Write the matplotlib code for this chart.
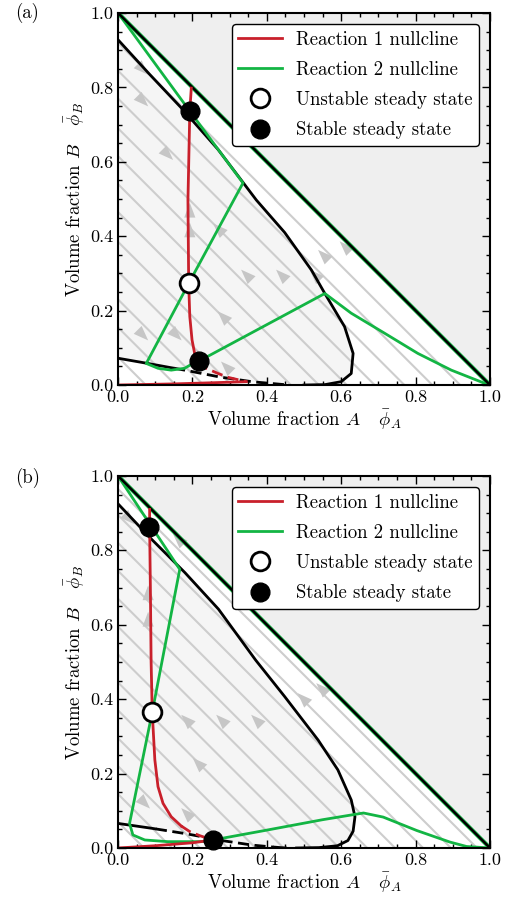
import numpy as np
import matplotlib
matplotlib.use('Agg')
import matplotlib.pyplot as plt
from matplotlib.lines import Line2D
from matplotlib.ticker import MultipleLocator

plt.rcParams['font.family'] = ['cmr10', 'DejaVu Serif']
plt.rcParams['mathtext.fontset'] = 'cm'
plt.rcParams['axes.formatter.use_mathtext'] = True
plt.rcParams['font.size'] = 13

RED = '#c9202b'
GREEN = '#13b544'
GRAY_LINE = '#cdcdcd'
GRAY_ARROW = '#c6c6c6'

# ---- panel (a) data ----
a_binodal_up_x = [0.0, 0.085, 0.17, 0.269, 0.372, 0.448, 0.52, 0.556, 0.609, 0.632, 0.627, 0.60, 0.556, 0.50]
a_binodal_up_y = [0.928, 0.835, 0.745, 0.633, 0.497, 0.41, 0.309, 0.246, 0.157, 0.085, 0.031, 0.009, 0.001, 0.0]
a_binodal_lo_x = [0.0, 0.08, 0.14, 0.18, 0.27, 0.358, 0.448]
a_binodal_lo_y = [0.072, 0.058, 0.047, 0.040, 0.022, 0.009, 0.001]
a_red_x = [0.197, 0.193, 0.188, 0.19, 0.193, 0.199, 0.206, 0.218]
a_red_y = [0.798, 0.736, 0.497, 0.273, 0.184, 0.121, 0.085, 0.0645]
a_red_dash_x = [0.218, 0.237, 0.269, 0.296, 0.345]
a_red_dash_y = [0.0645, 0.045, 0.031, 0.0206, 0.009]
a_red_base_x = [0.345, 0.25, 0.15, 0.0]
a_red_base_y = [0.009, 0.006, 0.003, 0.0]
a_green_x = [0.0, 0.193, 0.336, 0.19, 0.076, 0.1075, 0.143, 0.179, 0.2016, 0.218, 0.556,
             0.627, 0.717, 0.806, 0.896, 0.986, 1.0]
a_green_y = [1.0, 0.736, 0.543, 0.273, 0.058, 0.045, 0.040, 0.045, 0.058, 0.0645, 0.246,
             0.193, 0.139, 0.085, 0.040, 0.0045, 0.0]
a_stable_x = [0.193, 0.218]
a_stable_y = [0.736, 0.0645]
a_unstable_x = [0.19]
a_unstable_y = [0.273]
a_stream_c = [0.075, 0.155, 0.23, 0.305, 0.385, 0.465, 0.54, 0.615, 0.69, 0.77, 0.845, 0.92]
a_arrow_x = [0.067, 0.067, 0.134, 0.193, 0.193, 0.27, 0.345, 0.439, 0.529, 0.552, 0.61, 0.282, 0.067, 0.157, 0.291]
a_arrow_y = [0.848, 0.763, 0.619, 0.47, 0.417, 0.42, 0.296, 0.296, 0.296, 0.349, 0.372, 0.184, 0.134, 0.134, 0.049]
a_arrow_dir = ['dr', 'dr', 'dr', 'u', 'u', 'ul', 'ul', 'ul', 'ul', 'ul', 'ul', 'ul', 'dr', 'dr', 'ul']

# ---- panel (b) data ----
b_binodal_up_x = [0.0, 0.09, 0.18, 0.27, 0.37, 0.448, 0.538, 0.591, 0.627, 0.637, 0.632, 0.618, 0.59, 0.54, 0.48]
b_binodal_up_y = [0.925, 0.83, 0.74, 0.642, 0.505, 0.407, 0.29, 0.21, 0.129, 0.084, 0.045, 0.02, 0.006, 0.001, 0.0]
b_binodal_lo_x = [0.0, 0.09, 0.18, 0.269, 0.358, 0.403, 0.45]
b_binodal_lo_y = [0.066, 0.053, 0.039, 0.0215, 0.008, 0.0036, 0.0]
b_red_x = [0.085, 0.085, 0.087, 0.089, 0.092, 0.099, 0.1075, 0.121, 0.143, 0.17]
b_red_y = [0.91, 0.862, 0.7, 0.5, 0.365, 0.237, 0.165, 0.12, 0.084, 0.059]
b_red_dash_x = [0.17, 0.193, 0.22, 0.255]
b_red_dash_y = [0.059, 0.044, 0.033, 0.0215]
b_red_base_x = [0.255, 0.2, 0.1, 0.0]
b_red_base_y = [0.0215, 0.014, 0.006, 0.0]
b_green_x = [0.0, 0.166, 0.092, 0.031, 0.04, 0.072, 0.134, 0.224, 0.255, 0.4, 0.55, 0.641, 0.66,
             0.713, 0.803, 0.892, 0.937, 1.0]
b_green_y = [1.0, 0.749, 0.365, 0.066, 0.035, 0.0215, 0.017, 0.017, 0.0215, 0.048, 0.076, 0.091, 0.094,
             0.083, 0.047, 0.016, 0.004, 0.0]
b_stable_x = [0.084, 0.255]
b_stable_y = [0.862, 0.0215]
b_unstable_x = [0.092]
b_unstable_y = [0.365]
b_stream_c = [0.07, 0.145, 0.22, 0.295, 0.37, 0.445, 0.52, 0.595, 0.67, 0.745, 0.82, 0.895, 0.965]
b_arrow_x = [0.031, 0.081, 0.081, 0.162, 0.184, 0.278, 0.372, 0.497, 0.547, 0.215, 0.072, 0.184]
b_arrow_y = [0.884, 0.686, 0.615, 0.83, 0.344, 0.344, 0.344, 0.402, 0.429, 0.228, 0.12, 0.093]
b_arrow_dir = ['dr', 'u', 'u', 'ul', 'ul', 'ul', 'ul', 'ul', 'ul', 'ul', 'dr', 'ul']

# unit heading of each arrow
DIRS = {'dr': (1, -1), 'ul': (-1, 1), 'u': (0, 1), 'd': (0, -1)}
HEAD_L = 0.040   # arrowhead length (axes are square, so data units are isotropic)
HEAD_W = 0.030


def split_dashed(xs, ys, x0, x1):
    # lower binodal: solid, dashed, solid
    xs = np.asarray(xs)
    ys = np.asarray(ys)
    xi = np.linspace(xs[0], xs[-1], 200)
    yi = np.interp(xi, xs, ys)
    m1 = xi <= x0
    m2 = (xi >= x0) & (xi <= x1)
    m3 = xi >= x1
    return (xi[m1], yi[m1]), (xi[m2], yi[m2]), (xi[m3], yi[m3])


def arrowhead(ax, x, y, d):
    u = np.array(DIRS[d], dtype=float)
    u /= np.hypot(*u)
    n = np.array([-u[1], u[0]])
    p = np.array([x, y])
    tip = p + u * HEAD_L / 2
    base = p - u * HEAD_L / 2
    pts = np.array([tip, base + n * HEAD_W / 2, base - n * HEAD_W / 2])
    ax.fill(pts[:, 0], pts[:, 1], color=GRAY_ARROW, lw=0, zorder=2)


def panel(ax, up_x, up_y, lo_x, lo_y, red_x, red_y, rdash_x, rdash_y, rbase_x, rbase_y,
          green_x, green_y, st_x, st_y, un_x, un_y, stream_c, ar_x, ar_y, ar_d, dash_from, dash_to):
    ax.set_xlim(0, 1)
    ax.set_ylim(0, 1)
    # forbidden region above phi_A + phi_B = 1
    ax.fill([0, 1, 1], [1, 1, 0], color='#efefef', zorder=0, lw=0)
    # inside the binodal
    ax.fill(list(up_x) + list(lo_x[::-1]), list(up_y) + list(lo_y[::-1]),
            color='#f5f5f5', zorder=0.5, lw=0)

    for c in stream_c:
        ax.plot([0, c], [c, 0], color=GRAY_LINE, lw=1.5, zorder=1, solid_capstyle='butt')
    for x, y, d in zip(ar_x, ar_y, ar_d):
        arrowhead(ax, x, y, d)

    ax.plot(up_x, up_y, color='black', lw=2.0, zorder=3)
    p1, p2, p3 = split_dashed(lo_x, lo_y, dash_from, dash_to)
    ax.plot(*p1, color='black', lw=2.0, zorder=3)
    ax.plot(*p2, color='black', lw=2.0, zorder=3, dashes=(4, 2))
    ax.plot(*p3, color='black', lw=2.0, zorder=3)

    ax.plot(green_x, green_y, color=GREEN, lw=2.0, zorder=4)
    ax.plot([0, 1], [1, 0], color=GREEN, lw=3.0, zorder=4.5)
    ax.plot([0, 1], [1, 0], color='black', lw=1.8, zorder=4.6)

    ax.plot(red_x, red_y, color=RED, lw=2.0, zorder=5)
    ax.plot(rdash_x, rdash_y, color=RED, lw=2.0, zorder=5, dashes=(4, 2))
    ax.plot(rbase_x, rbase_y, color=RED, lw=2.0, zorder=5)

    ax.plot(un_x, un_y, 'o', ms=13.5, mfc='white', mec='black', mew=2.0, zorder=6, clip_on=False)
    ax.plot(st_x, st_y, 'o', ms=13.5, mfc='black', mec='black', mew=1.0, zorder=6, clip_on=False)

    ax.xaxis.set_minor_locator(MultipleLocator(0.05))
    ax.yaxis.set_minor_locator(MultipleLocator(0.05))
    ax.tick_params(which='both', direction='in', top=True, right=True, width=1.0)
    ax.tick_params(which='major', length=6)
    ax.tick_params(which='minor', length=3)
    ax.set_xticks([0, 0.2, 0.4, 0.6, 0.8, 1.0])
    ax.set_xticklabels(['0.0', '0.2', '0.4', '0.6', '0.8', '1.0'])
    ax.set_yticks([0, 0.2, 0.4, 0.6, 0.8, 1.0])
    ax.set_yticklabels(['0.0', '0.2', '0.4', '0.6', '0.8', '1.0'])
    for sp in ax.spines.values():
        sp.set_linewidth(1.5)
        sp.set_zorder(7)
    ax.set_xlabel(r'Volume fraction $A$   $\bar{\phi}_A$', labelpad=1, fontsize=13.5)
    ax.set_ylabel(r'Volume fraction $B$   $\bar{\phi}_B$', labelpad=3, fontsize=13.5)

    handles = [
        Line2D([], [], color=RED, lw=2.0),
        Line2D([], [], color=GREEN, lw=2.0),
        Line2D([], [], ls='none', marker='o', ms=13.5, mfc='white', mec='black', mew=2.0),
        Line2D([], [], ls='none', marker='o', ms=13.5, mfc='black', mec='black'),
    ]
    labels = ['Reaction 1 nullcline', 'Reaction 2 nullcline',
              'Unstable steady state', 'Stable steady state']
    leg = ax.legend(handles, labels, loc='upper right', fontsize=13.5, frameon=True,
                    fancybox=True, framealpha=1, edgecolor='black', handlelength=2.3,
                    handletextpad=0.75, labelspacing=0.65, borderaxespad=0.6, borderpad=0.35)
    leg.get_frame().set_linewidth(1.0)
    leg.set_zorder(10)


fig = plt.figure(figsize=(5.16, 9.0), dpi=100)
ax1 = fig.add_axes([0.2287, 0.5722, 0.7209, 0.4134])
ax2 = fig.add_axes([0.2287, 0.0578, 0.7209, 0.4134])

panel(ax1, a_binodal_up_x, a_binodal_up_y, a_binodal_lo_x, a_binodal_lo_y,
      a_red_x, a_red_y, a_red_dash_x, a_red_dash_y, a_red_base_x, a_red_base_y,
      a_green_x, a_green_y, a_stable_x, a_stable_y, a_unstable_x, a_unstable_y,
      a_stream_c, a_arrow_x, a_arrow_y, a_arrow_dir, 0.15, 0.45)
panel(ax2, b_binodal_up_x, b_binodal_up_y, b_binodal_lo_x, b_binodal_lo_y,
      b_red_x, b_red_y, b_red_dash_x, b_red_dash_y, b_red_base_x, b_red_base_y,
      b_green_x, b_green_y, b_stable_x, b_stable_y, b_unstable_x, b_unstable_y,
      b_stream_c, b_arrow_x, b_arrow_y, b_arrow_dir, 0.1, 0.42)

fig.text(0.03, 0.997, '(a)', ha='left', va='top', fontsize=13.5)
fig.text(0.03, 0.48, '(b)', ha='left', va='top', fontsize=13.5)

fig.savefig('out.png', dpi=100)
